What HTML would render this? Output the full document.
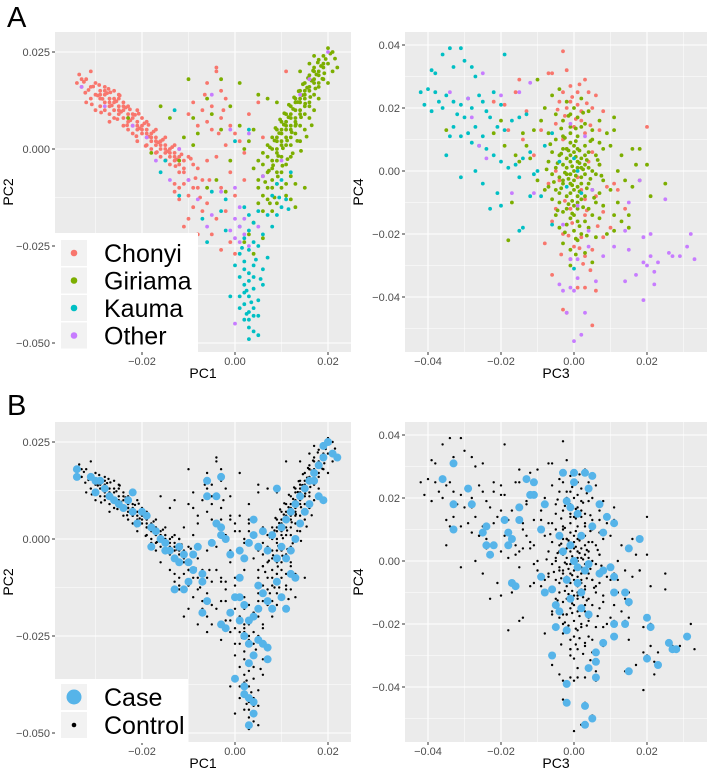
<!DOCTYPE html>
<html><head><meta charset="utf-8"><style>
html,body{margin:0;padding:0;background:#fff;}
svg{display:block;font-family:"Liberation Sans",Arial,sans-serif;}
</style></head><body>
<svg id="fig" width="709" height="771" viewBox="0 0 709 771"></svg>
<script>
// ---- data (values in units of 0.001) ----
const groups = ["Chonyi","Giriama","Kauma","Other"];
const groupColors = ["#f8766d","#7cae00","#00bfc4","#c77cff"];
const pc12Chonyi = "-33,18 -32,18 -33,16 -31,16 -30,17 -29,15 -30,14 -31,13 -29,13 -28,14 -28,12 -27,13 -27,11 -26,12 -26,10 -25,11 -25,9 -24,10 -24,8 -23,9 -23,7 -22,8 -22,6 -21,7 -21,5 -20,6 -20,4 -19,5 -19,3 -18,4 -18,2 -17,3 -17,1 -16,2 -16,0 -15,1 -15,-1 -14,0 -14,-2 -13,-1 -13,-3 -12,-2 -12,-4 -11,-5 -12,-6 -11,-3 -29,11 -27,9 -25,13 -23,11 -24,6 -22,4 -20,8 -19,7 -18,0 -17,5 -16,-2 -21,10 -26,15 -28,16 -30,10 -27,7 -25,14 -23,5 -21,2 -19,1 -17,-1 -15,3 -14,-4 -13,1 -12,0 -10,-2 -9,-4 -10,-8 -11,-9 -9,-10 -12,-10 -13,-9 -13,-11 -12,-13 -10,-12 -8,-10 -7,-8 -8,-5 -6,-3 -6,-14 -7,-16 -9,-15 -10,-18 -8,-22 -11,-20 -4,-18 -5,-22 -4,21 -4,20 -6,17 -3,15 -2,13 -5,11 -7,10 -9,12 -10,9 -3,8 -1,6 0,4 1,2 -2,1 2,-1 -5,5 -6,7 -8,6 -4,-2 -1,-6 2,-8 -3,-10 -2,-16 -1,-24 0,-27 -3,-26 11,20 5,12 3,9 6,3 0,-12 -31,20 -32,12 -34,17 -28,10 -26,8 -24,12 -29,14 -27,12 -25,10 -23,8 -21,6 -19,4 -17,2 -15,0 -13,-2 -11,-6 -28,15 -26,13 -24,11 -22,9 -20,5 -18,3 -16,1 -14,-1 -32.5,17.3 -31.5,15.2 -30.5,16.1 -29.5,13.8 -28.5,12.9 -27.5,14.4 -26.5,11.2 -25.5,12.3 -24.5,9.6 -23.5,10.7 -22.5,7.4 -21.5,8.8 -20.5,5.3 -19.5,6.6 -18.5,3.2 -17.5,4.5 -16.5,1.7 -15.5,2.4 -14.5,-0.6 -13.5,0.5 -12.5,-2.7 -11.5,-1.4 -30.8,11.5 -28.8,9.4 -26.8,14.6 -24.8,13.8 -22.6,10.2 -20.7,9.1 -18.6,6.2 -16.8,-0.8 -14.9,-2.9 -12.8,-4.4 -29.2,16.5 -27.2,15.5 -25.3,7.7 -23.2,6.1 -21.2,3.3 -19.2,0.8 -33.5,19.2 -32.2,14.5 -8.5,-7.5 -9.5,-2.5 -7.5,-12.5 -5.5,-8 -3.5,4 -2.5,10 -6.5,14";
const pc12Giriama = "20,26 21,25 19,24 18,23 20,22 22,21 19,21 17,20 18,19 16,19 19,18 17,18 15,17 16,16 18,16 14,15 15,14 17,14 13,13 14,12 16,12 12,11 13,10 15,11 11,9 12,8 14,9 10,7 11,6 13,7 9,5 10,4 12,5 8,3 9,2 11,3 7,1 8,0 10,1 6,-1 7,-2 9,-1 5,-3 6,-4 8,-5 9,-3 10,-6 11,-4 12,-2 7,-6 8,-8 9,-9 10,-10 7,-10 6,-12 5,-8 4,-5 11,-12 12,-13 13,-15 9,-14 8,-16 6,-16 5,-14 4,-19 3,-22 2,-24 4,-27 6,-23 14,2 15,5 16,8 17,10 13,4 12,1 18,13 20,17 21,20 16,22 17,24 14,20 15,-10 13,-9 -10,18 -6,13 -5,9 -3,5 -1,11 1,6 3,2 -8,4 -9,1 -11,3 -14,8 -16,11 -23,8 -18,-1 -12,-3 -4,-8 -2,-11 -6,-10 -1,-3 2,0 4,5 -9,8 -3,18 1,17 5,14 7,13 9,12 11,5 12,6 13,8 14,10 15,13 16,15 17,17 18,20 19,22 10,2 9,0 8,-3 12,3 14,6 13,12 15,15 16,18 17,21 18,17 12,9 11,7 10,5 9,3 14,13 15,9 16,11 13,6 11,1 10,-2 9,-6 8,-10 7,-13 6,-7 5,-10 12,-7 11,-9 19.5,23.2 18.5,21.4 17.5,19.2 16.5,17.6 15.5,15.8 14.5,13.9 13.5,12.1 12.5,10.3 11.5,8.2 10.5,6.3 9.5,4.1 8.5,2.2 7.5,0.4 20.5,24.6 21.5,23.3 18.8,18.1 17.3,15.6 16.2,13.4 15.1,11.7 14.2,8.2 13.1,6.4 12.2,4.3 11.2,2.2 10.3,0.2 9.3,-1.8 8.2,-4.2 7.3,-5.6 19.2,19.5 17.8,22.3 16.8,20.2 15.7,18.3 14.6,16.7 13.7,14.9 12.7,13.3 11.6,11.4 10.6,9.2 9.7,7.6 8.7,5.4 13.4,2.1 12.4,-1.1 11.3,-2.6 10.2,-4.3 9.2,-7.1 14.2,-0.5 15.4,3.2 16.5,6.1 6.5,-8.5 7.5,-14 8.5,-12.5";
const pc12Kauma = "2,-15 3,-17 4,-19 3,-21 2,-23 4,-24 3,-26 1,-27 2,-29 4,-30 3,-32 1,-33 2,-35 4,-36 3,-38 1,-38 2,-40 3,-42 4,-43 2,-44 3,-46 4,-47 5,-48 3,-49 0,-30 -1,-38 6,-31 7,-28 6,-35 5,-39 6,-22 8,-20 9,-17 10,-15 11,-13 8,-12 9,-9 10,-8 12,-6 7,-17 5,-16 -3,-16 -2,-13 -5,-11 -7,-18 -6,-24 -12,-12 -16,-6 -13,10 -15,-3 0,2 3,5 5,-25 1,-20 -2,-21 4,-41 2,-37 3,-34 4,-33 2,-31 5,-43 3,-44 1,-41 2.5,-36.5 3.5,-39.5 4.5,-28.5 1.5,-25.5 5.5,-33.5 2.5,-42.5 9.5,-12.5 11.5,-15.5";
const pc12Other = "-33,16 -28,11 -22,6 -19,3 -17,-3 -14,-8 -10,-8 -8,-13 -5,-17 -3,-11 0,-10 1,-15 0,-18 1,-20 -1,-21 2,-22 0,-23 1,-24 3,-25 2,-18 -1,5 3,4 6,-7 10,-3 14,14 20,25 16,18 -5,14 -12,0 -6,-20 0,-45 5,-20";
const pc34Chonyi = "-3,38 -7,31 -6,31 -2,32 3,29 -1,27 1,25 -3,25 4,25 6,24 -4,22 -2,20 2,19 5,20 8,19 -5,15 0,14 3,12 7,13 -2,7 4,3 -4,-3 2,-6 6,-8 -1,-12 3,-14 -6,-16 -3,-20 0,-24 3,-27 5,-25 -8,-23 -6,-33 -3,-44 -2,-45 3,-37 6,-38 5,-49 1,-37 -1,-28 8,-21 10,-18 14,-12 20,14 12,-6 -15,29 -16,25 -13,19 -19,21 -22,22 -18,13 -14,10 -11,5 -9,13 -7,-4 -5,-12 9,-5 11,-4 7,2 8,-13 -1,22 1,21 2,16 -3,10 5,6 -5,0 1,-2 3,-9 -2,-17 2,-21 -0.5,23.5 1.5,27.5 3.5,21.5 -2.5,17.5 0.5,16.5 -4.5,19.5 4.5,14.5 -1.5,-20.5 1.5,-24.5 -3.5,-26.5 4.5,-31.5 2.5,-29.5 -0.5,-16.5 3.5,-12.5 -2.5,-9.5 6.5,-17.5";
const pc34Giriama = "-6,24 -4,26 -2,22 0,20 2,23 4,19 -5,18 -3,16 -1,14 1,17 3,15 5,13 7,16 -7,12 -5,10 -3,11 -1,9 1,11 3,8 5,10 7,9 9,12 -6,6 -4,5 -2,7 0,6 2,4 4,6 6,5 8,7 -7,3 -5,1 -3,2 -1,3 1,1 3,2 5,0 7,2 -6,-1 -4,-2 -2,-1 0,-3 2,-2 4,-4 6,-1 8,-3 -7,-5 -5,-6 -3,-4 -1,-7 1,-5 3,-8 5,-6 7,-7 -6,-9 -4,-10 -2,-8 0,-11 2,-9 4,-12 6,-10 8,-11 -5,-14 -3,-13 -1,-15 1,-12 3,-16 5,-14 7,-15 -4,-18 -2,-17 0,-19 2,-20 4,-18 6,-21 -3,-23 -1,-25 1,-22 3,-26 5,-29 -1,-30 -18,-22 -17,-10 -15,3 -13,8 -11,13 -9,16 -12,4 -10,-3 -8,-6 -14,12 -16,5 -19,8 -22,12 -20,16 -35,13 11,17 11,13 10,8 13,5 12,0 14,-3 10,-6 12,-10 11,-14 13,-16 15,-18 9,-20 16,-5 18,-3 17,2 20,2 21,-8 25,-4 16,7 18,7 11,-19 15,-14 -10,29 -8,20 0,0 1,3 -1,-1 2,-4 -2,4 0,8 -1,12 1,-8 0,-14 -2,-12 2,14 3,-1 -3,-3 -1,5 1,7 -2,1 2,1 -1,-4 1,-10 -3,7 3,5 0,-6 4,1 -4,-7 -1,18 1,-16 -0.5,1.5 0.5,-1.5 1.5,2.5 -1.5,-2.5 2.5,0.5 -2.5,-0.5 0.5,4.5 -0.5,-4.5 1.5,-6.5 -1.5,6.5 3.5,3.5 -3.5,-5.5 0.5,9.5 -0.5,-9.5 2.5,-11.5 -2.5,10.5 4.5,-2.5 -4.5,2.5 0.5,13.5 -0.5,-13.5 1.5,-17.5 -1.5,17.5 3.5,-20.5 -3.5,13.5 5.5,-8.5 -5.5,-3.5 6.5,3.5 -6.5,8.5 0.5,-21.5 2.5,18.5 -2.5,-19.5 4.5,9.5 -4.5,-12.5 7.5,-1.5 -7.5,0.5 1.5,6.5 -1.5,-10.5 3.5,-5.5 -3.5,5.5 0.5,-26.5";
const pc34Kauma = "-42,25 -40,26 -39,32 -38,31 -36,37 -34,39 -31,39 -33,33 -30,35 -28,33 -27,30 -38,25 -37,22 -36,20 -41,21 -39,19 -35,24 -33,22 -31,21 -32,18 -30,17 -29,23 -28,20 -26,24 -25,22 -24,19 -22,25 -20,21 -19,37 -23,17 -21,14 -19,13 -17,16 -15,17 -13,18 -27,14 -29,12 -31,11 -33,14 -34,11 -28,9 -25,11 -26,8 -24,7 -22,5 -20,3 -18,1 -16,2 -15,-2 -14,4 -12,6 -11,-1 -10,0 -9,-8 -21,-7 -20,-11 -23,-12 -15,-19 -14,-18 -35,5 -31,-2 -27,0 -25,-4 -8,8 -6,12 -4,3 -2,-5 0,4 1,0 2,-7 0,-31 -6,-17 -12,-8";
const pc34Other = "-25,31 -29,23 -28,17 -34,25 -20,24 -15,25 -12,28 -26,8 -24,4 -17,-7 -11,-7 -4,-36 -3,-38 -1,-37 0,-38 1,-34 -2,-45 3,-45 2,-52 0,-54 -1,-28 1,-28 4,-24 6,-35 8,-27 4,-19 11,-24 14,-19 15,-25 14,-35 17,-33 19,-29 20,-30 19,-41 21,-27 22,-32 22,-36 23,-29 26,-26 27,-27 29,-27 31,-24 32,-20 33,-28 21,-20 19,-21 25,-9 15,-10 18,-3 -3,-17 5,-6 1,-11 3,11 -1,15";
const casePc12 = "-34,18 -34,16 -31,16 -30,15 -30,12 -29,15 -28,13 -27,11 -26,10 -25,9 -24,8 -23,10 -22,7 -21,4 -20,7 -19,6 -18,3 -17,2 -16,0 -15,-1 -14,-3 -13,-5 -12,-6 -11,-4 -10,-6 -9,-4 -9,-8 -10,-11 -11,-13 -13,-13 -7,-9 -7,-11 -6,-16 -7,-19 -8,-2 -5,-1 -6,11 -6,15 -3,16 -4,11 -4,4 -3,1 -2,0 -3,3 -2,-23 -3,-22 -1,-19 0,-15 1,-15 2,-17 1,-21 3,-21 2,-25 3,-27 4,-30 3,-32 5,-26 6,-27 7,-28 7,-31 0,-36 2,-38 3,-41 4,-42 2,-40 4,-45 3,-48 1,-10 2,-5 3,-1 4,1 5,-2 6,2 7,-3 8,1 9,-5 10,-2 11,-5 12,-9 13,-10 5,-12 6,-14 7,-16 8,-18 9,-11 10,-15 11,-18 4,-20 5,-18 10,3 11,5 12,7 13,9 14,11 15,13 16,15 17,17 18,19 19,21 20,25 19,24 21,22 22,21 18,11 19,10 17,15 16,9 15,7 14,4 13,0 12,-3 9,13 4,5 1,-3 -1,-4 -22,12 -18,-2 -12,-2 -15,-3";
const casePc34 = "-33,31 -36,26 -29,23 -33,18 -28,18 -33,10 -25,9 -24,11 -24,5 -23,2 -22,5 -19,13 -18,9 -18,5 -17,7 -17,-7 -16,-8 -15,17 -15,13 -13,26 -12,21 -11,21 -11,25 -9,10 -9,-5 -8,-10 -8,18 -6,-9 -6,-30 -5,-14 -5,-21 -4,-16 -3,28 -2,19 -2,-6 -2,-22 -2,-39 -2,-45 -1,17 0,28 0,25 1,15 1,-2 2,-10 2,-15 3,28 3,-46 3,-52 4,23 4,-17 4,-34 5,27 5,-50 5,11 6,-29 6,-32 6,-37 7,-4 7,18 8,-26 8,-3 9,14 8,9 10,-2 11,12 11,-5 11,-10 11,-20 11,-24 14,-10 14,-20 15,-13 15,-35 15,4 18,7 20,-18 21,-21 20,-31 23,-33 26,-26 27,-28 28,-28 31,-24 -1,5 0,0 1,-7 -3,3 2,8 3,-3 -1,-12 4,-1 -4,8";
const xTicksLeft = [-0.02, 0, 0.02];
const xTickLabelsLeft = ["\u22120.02","0.00","0.02"];
const yTicksLeft = [0.025, 0, -0.025, -0.05];
const yTickLabelsLeft = ["0.025","0.000","\u22120.025","\u22120.050"];
const xTicksRight = [-0.04, -0.02, 0, 0.02];
const xTickLabelsRight = ["\u22120.04","\u22120.02","0.00","0.02"];
const yTicksRight = [0.04, 0.02, 0, -0.02, -0.04];
const yTickLabelsRight = ["0.04","0.02","0.00","\u22120.02","\u22120.04"];

function parse(s){return s.trim().split(/\s+/).map(p=>p.split(',').map(v=>+v/1000));}
const NS="http://www.w3.org/2000/svg";
const svg=document.getElementById('fig');
function el(tag,attrs,parent){const e=document.createElementNS(NS,tag);for(const k in attrs)e.setAttribute(k,attrs[k]);(parent||svg).appendChild(e);return e;}

function makeScale(v0,p0,v1,p1){return v=>p0+(v-v0)*(p1-p0)/(v1-v0);}
function panel(cfg){
  const g=el('g',{});
  
  
  const bg=el('rect',{x:cfg.x0,y:cfg.y0,width:cfg.x1-cfg.x0,height:cfg.y1-cfg.y0,fill:'#ebebeb'},g);
  
  
  const sx=cfg.sx, sy=cfg.sy;
  cfg.xMinor.forEach(v=>{const x=sx(v);if(x>cfg.x0&&x<cfg.x1)el('line',{x1:x,x2:x,y1:cfg.y0,y2:cfg.y1,stroke:'#fff','stroke-width':0.5},g);});
  cfg.yMinor.forEach(v=>{const y=sy(v);if(y>cfg.y0&&y<cfg.y1)el('line',{x1:cfg.x0,x2:cfg.x1,y1:y,y2:y,stroke:'#fff','stroke-width':0.5},g);});
  cfg.xTicks.forEach((v,i)=>{const x=sx(v);
    el('line',{x1:x,x2:x,y1:cfg.y0,y2:cfg.y1,stroke:'#fff','stroke-width':1.1},g);
    el('line',{x1:x,x2:x,y1:cfg.y1,y2:cfg.y1+3,stroke:'#333','stroke-width':1},g);
    const t=el('text',{x:x,y:cfg.y1+13,'text-anchor':'middle','font-size':11,fill:'#4d4d4d'},g);t.textContent=cfg.xLabels[i];
    
    });
  cfg.yTicks.forEach((v,i)=>{const y=sy(v);
    el('line',{x1:cfg.x0,x2:cfg.x1,y1:y,y2:y,stroke:'#fff','stroke-width':1.1},g);
    el('line',{x1:cfg.x0-3,x2:cfg.x0,y1:y,y2:y,stroke:'#333','stroke-width':1},g);
    const t=el('text',{x:cfg.x0-5,y:y+4,'text-anchor':'end','font-size':11,fill:'#4d4d4d'},g);t.textContent=cfg.yLabels[i];
    
    });
  const xt=el('text',{x:(cfg.x0+cfg.x1)/2,y:cfg.y1+26,'text-anchor':'middle','font-size':14,fill:'#000'},g);xt.textContent=cfg.xTitle;
  
  
  const yx=cfg.x0-cfg.yTitleOff, yy=(cfg.y0+cfg.y1)/2;
  const yt=el('text',{x:yx,y:yy,'text-anchor':'middle','font-size':14,fill:'#000',transform:`rotate(-90 ${yx} ${yy})`},g);yt.textContent=cfg.yTitle;
  
  
  const pg=el('g',{},g);
  cfg.series.forEach(s=>{
    s.pts.forEach(p=>{const x=sx(p[0]),y=sy(p[1]);
      if(x<cfg.x0||x>cfg.x1||y<cfg.y0||y>cfg.y1)return;
      const c=el('circle',{cx:x.toFixed(1),cy:y.toFixed(1),r:s.r,fill:s.color},pg);
      
      });
  });
  return g;
}
const leftX=[55,351], rightX=[405,707];
const sxL=makeScale(0,235,0.02,328), sxR=makeScale(0,574,0.02,647);
const minorL=[-0.03,-0.01,0.01,0.03], minorLy=[0.0125,-0.0125,-0.0375];
const minorR=[-0.05,-0.03,-0.01,0.01,0.03], minorRy=[0.03,0.01,-0.01,-0.03,-0.05];
const p12=[parse(pc12Chonyi),parse(pc12Giriama),parse(pc12Kauma),parse(pc12Other)];
const p34=[parse(pc34Chonyi),parse(pc34Giriama),parse(pc34Kauma),parse(pc34Other)];
const names=['point-chonyi','point-giriama','point-kauma','point-other'];
[0,390].forEach((dy,row)=>{
  const syL=makeScale(0,149+dy,0.025,52+dy), syR=makeScale(0,171+dy,0.02,108+dy);
  const isA=row===0;
  const s12=isA? p12.map((pts,i)=>({pts,color:groupColors[i],r:1.9,name:names[i]}))
    : [{pts:[].concat(...p12),color:'#000',r:1.2,name:'point-control'},{pts:parse(casePc12),color:'#56b4e9',r:4,name:'point-case'}];
  const s34=isA? p34.map((pts,i)=>({pts,color:groupColors[i],r:1.9,name:names[i]}))
    : [{pts:[].concat(...p34),color:'#000',r:1.2,name:'point-control'},{pts:parse(casePc34),color:'#56b4e9',r:4,name:'point-case'}];
  panel({name:(isA?'a':'b')+'-pc1-pc2-plot',x0:leftX[0],x1:leftX[1],y0:32+dy,y1:352+dy,sx:sxL,sy:syL,
    xTicks:xTicksLeft,xLabels:xTickLabelsLeft,yTicks:yTicksLeft,yLabels:yTickLabelsLeft,xMinor:minorL,yMinor:minorLy,
    xTitle:'PC1',yTitle:'PC2',yTitleOff:42,series:s12});
  panel({name:(isA?'a':'b')+'-pc3-pc4-plot',x0:rightX[0],x1:rightX[1],y0:32+dy,y1:352+dy,sx:sxR,sy:syR,
    xTicks:xTicksRight,xLabels:xTickLabelsRight,yTicks:yTicksRight,yLabels:yTickLabelsRight,xMinor:minorR,yMinor:minorRy,
    xTitle:'PC3',yTitle:'PC4',yTitleOff:42,series:s34});
});
const lgA=el('g',{});


el('rect',{x:55,y:233,width:143,height:119,fill:'#fff'},lgA);
groups.forEach((gname,i)=>{const y=240+i*27.5;
  el('rect',{x:61,y:y,width:26,height:26,fill:'#f2f2f2'},lgA);
  el('circle',{cx:74,cy:y+13,r:3.3,fill:groupColors[i]},lgA);
  const t=el('text',{x:104,y:y+22,'font-size':25,fill:'#000'},lgA);t.textContent=gname;
  
  });
const lgB=el('g',{});


el('rect',{x:55,y:679,width:133,height:64,fill:'#fff'},lgB);
[['Case','#56b4e9',7.5],['Control','#000',2.3]].forEach((d,i)=>{const y=684+i*28;
  el('rect',{x:61,y:y,width:26,height:26,fill:'#f2f2f2'},lgB);
  el('circle',{cx:74,cy:y+13,r:d[2],fill:d[1]},lgB);
  const t=el('text',{x:104,y:y+22,'font-size':25,fill:'#000'},lgB);t.textContent=d[0];
  
  });
const A=el('text',{x:7,y:27,'font-size':29,fill:'#000'});A.textContent='A';


const B=el('text',{x:7,y:415,'font-size':29,fill:'#000'});B.textContent='B';


</script>
</body></html>
